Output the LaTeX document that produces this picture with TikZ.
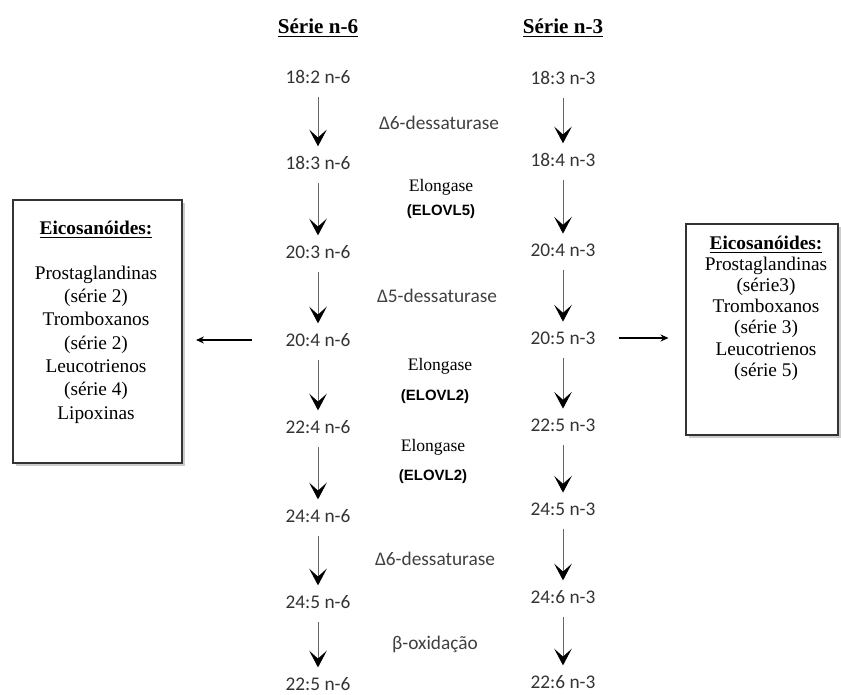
\documentclass[tikz,border=0pt]{standalone}
\usepackage{fontspec}
\setmainfont{Liberation Serif}
\newfontfamily\acidfont{Carlito}
\newfontfamily\tagfont{Liberation Sans}
\usetikzlibrary{arrows.meta,shadows}

\newcommand*{\colsix}{318}
\newcommand*{\colthree}{563}

\begin{document}
\begin{tikzpicture}
[
	x=0.02cm, y=-0.02cm,
	acid/.style={font=\acidfont\fontsize{11}{13}\selectfont,text=black!80,inner sep=2pt},
	enzyme/.style={font=\acidfont\fontsize{11}{13}\selectfont,text=black!75},
	elong/.style={font=\fontsize{10}{12}\selectfont},
	tag/.style={font=\tagfont\bfseries\fontsize{8.5}{10}\selectfont},
	flow/.style={black!60,line width=0.5pt,-{Stealth[length=9.5pt,width=10pt,inset=4.5pt,color=black]},shorten <=5.5pt,shorten >=3.5pt},
	side/.style={black,line width=0.8pt,-{Stealth[length=4.5pt,width=4pt]}},
	eicobox/.style={draw=black!80,line width=1.2pt,fill=white,inner sep=0pt,outer sep=0pt,anchor=north west,
		drop shadow={shadow xshift=1.5pt,shadow yshift=-1.5pt,fill=black!40}},
	eicotext/.style={align=center,anchor=north}
]
	\useasboundingbox (0,0) rectangle (841,695);

	% headings
	\node[font=\bfseries\fontsize{12}{14}\selectfont] (hsix) at (\colsix,28) {\underline{Série n-6}};
	\node[font=\bfseries\fontsize{12}{14}\selectfont] (hthree) at (\colthree,28) {\underline{Série n-3}};

	% series n-6
	\foreach \y/\t [count=\i] in {77/18:2 n-6,163/18:3 n-6,252/20:3 n-6,340/20:4 n-6,427/22:4 n-6,516/24:4 n-6,602/24:5 n-6,684/22:5 n-6} {
		\node[acid] (s\i) at (\colsix,\y) {\t};
	}
	% series n-3
	\foreach \y/\t [count=\i] in {78/18:3 n-3,160/18:4 n-3,250/20:4 n-3,338/20:5 n-3,425/22:5 n-3,509/24:5 n-3,597/24:6 n-3,682/22:6 n-3} {
		\node[acid] (t\i) at (\colthree,\y) {\t};
	}
	\foreach \i [evaluate=\i as \j using int(\i+1)] in {1,...,7} {
		\draw[flow] (s\i) -- (s\j);
		\draw[flow] (t\i) -- (t\j);
	}

	% enzymes
	\node[enzyme] (dsixa) at (439,123) {Δ6-dessaturase};
	\node[elong] (elfive) at (441,187) {Elongase};
	\node[tag] (ovfive) at (441,212) {(ELOVL5)};
	\node[enzyme] (dfive) at (437,296) {Δ5-dessaturase};
	\node[elong] (eltwoa) at (440,366) {Elongase};
	\node[tag] (ovtwoa) at (435,397) {(ELOVL2)};
	\node[elong] (eltwob) at (433,447) {Elongase};
	\node[tag] (ovtwob) at (433,477) {(ELOVL2)};
	\node[enzyme] (dsixb) at (435,559) {Δ6-dessaturase};
	\node[enzyme] (betaox) at (435,644) {β-oxidação};

	% eicosanoid boxes
	\node[eicobox,minimum width=3.38cm,minimum height=5.26cm] (lbox) at (13,200) {};
	\node[eicobox,minimum width=3.04cm,minimum height=4.22cm] (rbox) at (686,224) {};
	\node[eicotext,font=\fontsize{11}{13.3}\selectfont] (ltext) at (96,215) {\underline{\textbf{Eicosanóides:}}\\[12pt]
		Prostaglandinas\\ (série 2)\\ Tromboxanos\\ (série 2)\\ Leucotrienos\\ (série 4)\\ Lipoxinas};
	\node[eicotext,font=\fontsize{11}{12}\selectfont] (rtext) at (766,230) {\underline{\textbf{Eicosanóides:}}\\
		Prostaglandinas\\ (série3)\\ Tromboxanos\\ (série 3)\\ Leucotrienos\\ (série 5)};

	% arrows to boxes
	\draw[side,shorten <=17pt,shorten >=8pt] (s4.west) -- (s4.west -| lbox.east);
	\draw[side,shorten <=11pt,shorten >=10pt] (t4.east) -- (t4.east -| rbox.west);

\end{tikzpicture}
\end{document}
